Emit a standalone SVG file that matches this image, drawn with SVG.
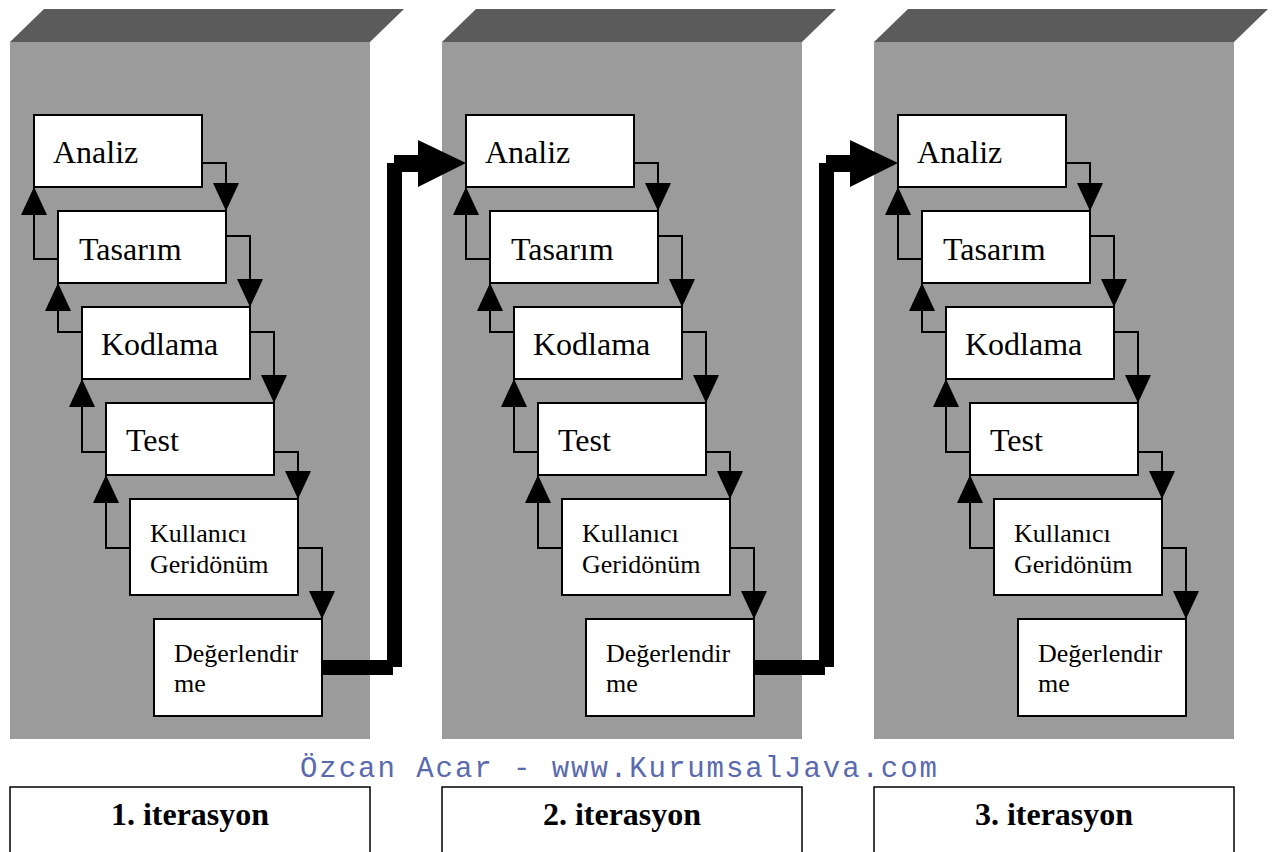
<svg xmlns="http://www.w3.org/2000/svg" width="1274" height="852" viewBox="0 0 1274 852">
<defs>
<style>
.front{fill:#9b9b9b}
.top{fill:#5b5b5b}
.box{fill:#fff;stroke:#000;stroke-width:2}
.lbl{font-family:'Liberation Serif','DejaVu Serif',serif;font-size:32px;fill:#000}
.lbl2{font-family:'Liberation Serif','DejaVu Serif',serif;font-size:26px;fill:#000}
.ln{fill:none;stroke:#000;stroke-width:2;marker-end:url(#ah)}
.thick{fill:#000}
.foot{fill:#fff;stroke:#000;stroke-width:1.5}
.ftxt{font-family:'Liberation Serif','DejaVu Serif',serif;font-size:32px;font-weight:bold;fill:#000;text-anchor:middle}
.wm{font-family:'Liberation Mono','Courier New',monospace;font-size:29px;fill:#5a6aae}
</style>
<marker id="ah" markerUnits="userSpaceOnUse" markerWidth="28" markerHeight="26" refX="28" refY="13" orient="auto" viewBox="0 0 28 26">
<path d="M0,0 L28,13 L0,26 Z" fill="#000"/>
</marker>
</defs>
<rect width="1274" height="852" fill="#fff"/>

<g id="panels">
<g id="panel1">
<polygon class="top" points="10,42 44,9 404,9 370,42"/>
<rect class="front" x="10" y="42" width="360" height="697"/>
</g>
<g id="panel2">
<polygon class="top" points="442,42 476,9 836,9 802,42"/>
<rect class="front" x="442" y="42" width="360" height="697"/>
</g>
<g id="panel3">
<polygon class="top" points="874,42 908,9 1268,9 1234,42"/>
<rect class="front" x="874" y="42" width="360" height="697"/>
</g>
</g>

<g id="connectors">
<g id="conn-p1">
<path class="ln" d="M202,163 H226 V211"/>
<path class="ln" d="M226,236 H250 V307"/>
<path class="ln" d="M250,332 H274 V403"/>
<path class="ln" d="M274,452 H298 V499"/>
<path class="ln" d="M298,548 H322 V619"/>
<path class="ln" d="M58,259 H34 V187"/>
<path class="ln" d="M82,332 H58 V283"/>
<path class="ln" d="M106,452 H82 V379"/>
<path class="ln" d="M130,548 H106 V475"/>
</g>
<g id="conn-p2" transform="translate(432,0)">
<path class="ln" d="M202,163 H226 V211"/>
<path class="ln" d="M226,236 H250 V307"/>
<path class="ln" d="M250,332 H274 V403"/>
<path class="ln" d="M274,452 H298 V499"/>
<path class="ln" d="M298,548 H322 V619"/>
<path class="ln" d="M58,259 H34 V187"/>
<path class="ln" d="M82,332 H58 V283"/>
<path class="ln" d="M106,452 H82 V379"/>
<path class="ln" d="M130,548 H106 V475"/>
</g>
<g id="conn-p3" transform="translate(864,0)">
<path class="ln" d="M202,163 H226 V211"/>
<path class="ln" d="M226,236 H250 V307"/>
<path class="ln" d="M250,332 H274 V403"/>
<path class="ln" d="M274,452 H298 V499"/>
<path class="ln" d="M298,548 H322 V619"/>
<path class="ln" d="M58,259 H34 V187"/>
<path class="ln" d="M82,332 H58 V283"/>
<path class="ln" d="M106,452 H82 V379"/>
<path class="ln" d="M130,548 H106 V475"/>
</g>
<path id="iter1-to-2" class="thick" d="M387,163 H394 V155 H418 V140 L466,163 L418,187 V172 H402 V667 H393 V675 H322 V660 H387 Z"/>
<path id="iter2-to-3" class="thick" transform="translate(432,0)" d="M387,163 H394 V155 H418 V140 L466,163 L418,187 V172 H402 V667 H393 V675 H322 V660 H387 Z"/>
</g>

<g id="nodes-p1">
<g id="p1-analiz"><rect class="box" x="34" y="115" width="168" height="72"/><text class="lbl" x="53" y="163">Analiz</text></g>
<g id="p1-tasarim"><rect class="box" x="58" y="211" width="168" height="72"/><text class="lbl" x="79" y="260">Tasarım</text></g>
<g id="p1-kodlama"><rect class="box" x="82" y="307" width="168" height="72"/><text class="lbl" x="101" y="355">Kodlama</text></g>
<g id="p1-test"><rect class="box" x="106" y="403" width="168" height="72"/><text class="lbl" x="126" y="451">Test</text></g>
<g id="p1-kullanici"><rect class="box" x="130" y="499" width="168" height="96"/><text class="lbl2" x="150" y="542">Kullanıcı</text><text class="lbl2" x="150" y="573">Geridönüm</text></g>
<g id="p1-degerlendirme"><rect class="box" x="154" y="619" width="168" height="97"/><text class="lbl2" x="174" y="662">Değerlendir</text><text class="lbl2" x="174" y="692">me</text></g>
</g>
<g id="nodes-p2" transform="translate(432,0)">
<g id="p2-analiz"><rect class="box" x="34" y="115" width="168" height="72"/><text class="lbl" x="53" y="163">Analiz</text></g>
<g id="p2-tasarim"><rect class="box" x="58" y="211" width="168" height="72"/><text class="lbl" x="79" y="260">Tasarım</text></g>
<g id="p2-kodlama"><rect class="box" x="82" y="307" width="168" height="72"/><text class="lbl" x="101" y="355">Kodlama</text></g>
<g id="p2-test"><rect class="box" x="106" y="403" width="168" height="72"/><text class="lbl" x="126" y="451">Test</text></g>
<g id="p2-kullanici"><rect class="box" x="130" y="499" width="168" height="96"/><text class="lbl2" x="150" y="542">Kullanıcı</text><text class="lbl2" x="150" y="573">Geridönüm</text></g>
<g id="p2-degerlendirme"><rect class="box" x="154" y="619" width="168" height="97"/><text class="lbl2" x="174" y="662">Değerlendir</text><text class="lbl2" x="174" y="692">me</text></g>
</g>
<g id="nodes-p3" transform="translate(864,0)">
<g id="p3-analiz"><rect class="box" x="34" y="115" width="168" height="72"/><text class="lbl" x="53" y="163">Analiz</text></g>
<g id="p3-tasarim"><rect class="box" x="58" y="211" width="168" height="72"/><text class="lbl" x="79" y="260">Tasarım</text></g>
<g id="p3-kodlama"><rect class="box" x="82" y="307" width="168" height="72"/><text class="lbl" x="101" y="355">Kodlama</text></g>
<g id="p3-test"><rect class="box" x="106" y="403" width="168" height="72"/><text class="lbl" x="126" y="451">Test</text></g>
<g id="p3-kullanici"><rect class="box" x="130" y="499" width="168" height="96"/><text class="lbl2" x="150" y="542">Kullanıcı</text><text class="lbl2" x="150" y="573">Geridönüm</text></g>
<g id="p3-degerlendirme"><rect class="box" x="154" y="619" width="168" height="97"/><text class="lbl2" x="174" y="662">Değerlendir</text><text class="lbl2" x="174" y="692">me</text></g>
</g>

<text id="watermark" class="wm" x="300" y="777" textLength="637" lengthAdjust="spacing">Özcan Acar - www.KurumsalJava.com</text>

<g id="footer">
<g id="iter1"><rect class="foot" x="10" y="787" width="360" height="90"/><text class="ftxt" x="190" y="825">1. iterasyon</text></g>
<g id="iter2"><rect class="foot" x="442" y="787" width="360" height="90"/><text class="ftxt" x="622" y="825">2. iterasyon</text></g>
<g id="iter3"><rect class="foot" x="874" y="787" width="360" height="90"/><text class="ftxt" x="1054" y="825">3. iterasyon</text></g>
</g>
</svg>
